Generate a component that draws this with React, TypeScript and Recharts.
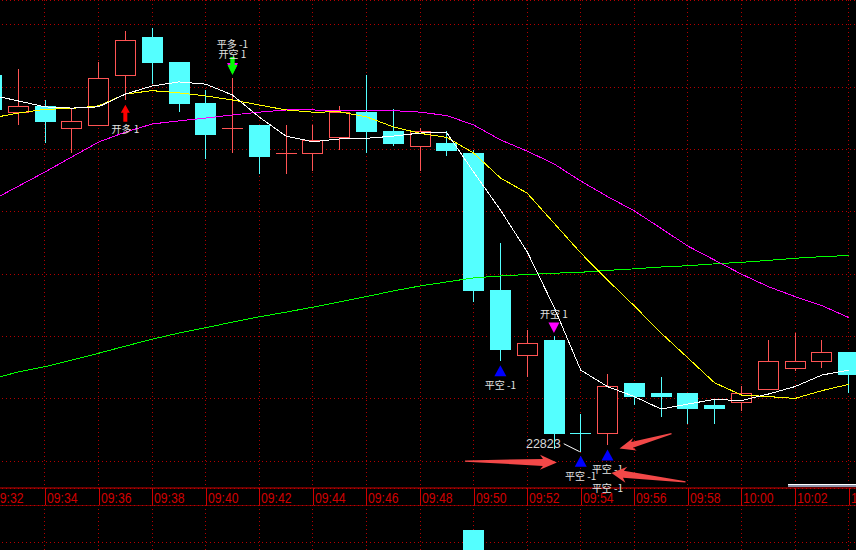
import React from "react";
import {
  ComposedChart,
  Bar,
  Line,
  XAxis,
  YAxis,
  CartesianGrid,
  ReferenceDot,
  ReferenceLine,
} from "recharts";

// one-minute bars, 09:32 - 10:04
const times = [
  "09:32", "09:33", "09:34", "09:35", "09:36", "09:37", "09:38", "09:39", "09:40", "09:41", "09:42",
  "09:43", "09:44", "09:45", "09:46", "09:47", "09:48", "09:49", "09:50", "09:51", "09:52", "09:53",
  "09:54", "09:55", "09:56", "09:57", "09:58", "09:59", "10:00", "10:01", "10:02", "10:03", "10:04",
];
const opens = [
  22944, 22932, 22934, 22927, 22928, 22944, 22956, 22948, 22935, 22927, 22928,
  22919, 22919, 22924, 22932, 22926, 22921, 22922, 22919, 22875, 22854, 22859,
  22829, 22829, 22845, 22842, 22842, 22838, 22839, 22843, 22850, 22852, 22855,
];
const highs = [
  22947, 22946, 22936, 22933, 22948, 22958, 22959, 22948, 22939, 22943, 22928,
  22928, 22928, 22934, 22944, 22933, 22927, 22926, 22920, 22890, 22862, 22860,
  22835, 22848, 22845, 22847, 22842, 22840, 22844, 22859, 22861, 22859, 22855,
];
const lows = [
  22931, 22928, 22922, 22919, 22928, 22936, 22941, 22932, 22917, 22919, 22912,
  22912, 22913, 22920, 22919, 22921, 22913, 22918, 22871, 22852, 22847, 22824,
  22823, 22825, 22838, 22834, 22832, 22832, 22836, 22843, 22849, 22850, 22842,
];
const closes = [
  22933, 22934, 22929, 22929, 22943, 22955, 22948, 22935, 22925, 22927, 22918,
  22919, 22923, 22932, 22926, 22922, 22926, 22920, 22875, 22856, 22858, 22829,
  22829, 22844, 22841, 22841, 22837, 22837, 22842, 22852, 22852, 22855, 22848,
];
// moving averages
const ma5 = [
  22937.5, 22935.6, 22933.7, 22933.3, 22933.7, 22937.8, 22940.4, 22941.7, 22941.0, 22937.5, 22930.4,
  22924.3, 22922.5, 22923.4, 22923.6, 22924.3, 22925.3, 22925.4, 22912.8, 22900.6, 22887.2, 22869.5,
  22849.2, 22843.9, 22840.7, 22836.7, 22838.3, 22839.8, 22839.4, 22841.5, 22843.9, 22847.6, 22849.2,
];
const ma10 = [
  22930.1, 22931.7, 22932.9, 22933.2, 22934.0, 22937.8, 22938.9, 22938.2, 22937.2, 22935.9, 22934.3,
  22932.7, 22932.0, 22932.1, 22930.5, 22927.3, 22925.2, 22923.9, 22918.9, 22910.9, 22906.0, 22896.4,
  22886.8, 22878.1, 22869.8, 22861.1, 22853.1, 22845.1, 22841.2, 22840.7, 22840.1, 22842.6, 22844.6,
];
const ma20 = [
  22903.6, 22908.2, 22912.8, 22917.6, 22922.4, 22925.6, 22928.2, 22929.2, 22930.1, 22931.1, 22932.0,
  22932.7, 22932.7, 22932.5, 22932.4, 22932.5, 22932.0, 22930.9, 22927.9, 22923.1, 22919.5, 22915.4,
  22909.9, 22904.9, 22900.3, 22894.7, 22889.0, 22884.5, 22880.0, 22876.0, 22872.8, 22869.9, 22866.1,
];
const ma60 = [
  22846.3, 22848.6, 22850.3, 22852.4, 22854.6, 22856.9, 22859.1, 22861.1, 22862.8, 22864.6, 22866.3,
  22867.8, 22869.4, 22871.1, 22872.8, 22874.6, 22876.2, 22877.5, 22878.8, 22879.4, 22879.9, 22880.3,
  22880.6, 22881.2, 22881.7, 22882.3, 22882.7, 22883.3, 22883.8, 22884.4, 22885.1, 22885.6, 22886.0,
];
// volume pane: only the 09:50 bar reaches into view
const volumes = [
  1200, 900, 800, 700, 1500, 1400, 1300, 1100, 1000, 1200, 900,
  700, 600, 800, 1100, 600, 700, 600, 3650, 2300, 1200, 2200,
  1500, 1400, 800, 700, 700, 500, 600, 900, 700, 600, 800,
];

const priceTicks = [22820, 22840, 22860, 22880, 22900, 22920, 22940, 22960];
const volumeTicks = [3000];

// trade signals
const signalTimes = ["09:37", "09:41", "09:51", "09:53", "09:54", "09:55"];
const signalKinds = ["openLong", "closeLongOpenShort", "closeShort", "openShort", "closeShort", "closeShort"];
const signalLabels = [["开多 1"], ["平多 -1", "开空 1"], ["平空 -1"], ["开空 1"], ["平空 -1"], ["平空 -1", "平空 -1"]];

const lowestTime = "09:54";
const lowestPrice = 22823;

const UP = "#ff5454";
const DOWN = "#54ffff";
const GRID = "#b40000";
const AXIS = "#d00000";
const TXT = "#e4e4e4";

const table = times.map((t, i) => ({
  time: t,
  open: opens[i],
  high: highs[i],
  low: lows[i],
  close: closes[i],
  prevClose: i > 0 ? closes[i - 1] : opens[i],
  ma5: ma5[i],
  ma10: ma10[i],
  ma20: ma20[i],
  ma60: ma60[i],
  volume: volumes[i],
}));

const isUp = (d: any) => d.close > d.open || (d.close === d.open && d.close > d.prevClose);

function Candle(props: any) {
  const { x, y, width, height, payload } = props;
  const top = Math.min(y, y + height);
  const k = Math.abs(height) / (payload.high - payload.low);
  const py = (v: number) => Math.round(top + (payload.high - v) * k);
  const left = Math.floor(x + width / 2) - 10;
  const wx = left + 10.5;
  const color = isUp(payload) ? UP : DOWN;
  const yo = py(payload.open);
  const yc = py(payload.close);
  const yh = py(payload.high);
  const yl = py(payload.low);
  const bt = Math.min(yo, yc);
  const bb = Math.max(yo, yc);
  if (bt === bb) {
    return (
      <g shapeRendering="crispEdges">
        <line x1={wx} x2={wx} y1={yh} y2={yl} stroke={color} />
        <line x1={left} x2={left + 21} y1={bt + 0.5} y2={bt + 0.5} stroke={color} />
      </g>
    );
  }
  if (isUp(payload)) {
    return (
      <g shapeRendering="crispEdges">
        <line x1={wx} x2={wx} y1={yh} y2={bt} stroke={color} />
        <line x1={wx} x2={wx} y1={bb} y2={yl} stroke={color} />
        <rect x={left + 0.5} y={bt + 0.5} width={20} height={bb - bt} fill="#000" stroke={color} />
      </g>
    );
  }
  return (
    <g shapeRendering="crispEdges">
      <line x1={wx} x2={wx} y1={yh} y2={yl} stroke={color} />
      <rect x={left} y={bt} width={21} height={bb - bt + 1} fill={color} />
    </g>
  );
}

function VolumeBar(props: any) {
  const { x, y, width, height, payload } = props;
  const left = Math.floor(x + width / 2) - 10;
  const top = Math.round(Math.min(y, y + height));
  const h = Math.abs(height) + 2;
  if (isUp(payload)) {
    return <rect x={left + 0.5} y={top + 0.5} width={20} height={h} fill="#000" stroke={UP} shapeRendering="crispEdges" />;
  }
  return <rect x={left} y={top} width={21} height={h} fill={DOWN} shapeRendering="crispEdges" />;
}

function TimeTick(props: any) {
  const { x, y, payload } = props;
  const lx = Math.round(x) + 0.5;
  return (
    <g>
      <line x1={lx} x2={lx} y1={y} y2={y + 17} stroke={AXIS} shapeRendering="crispEdges" />
      <text
        x={lx + 1.5}
        y={y + 14.5}
        fill={AXIS}
        fontSize={14}
        textLength={30.5}
        lengthAdjust="spacingAndGlyphs"
        fontFamily="'Liberation Sans', Arial, sans-serif"
      >
        {payload.value}
      </text>
    </g>
  );
}

function Labels({ cx, y, lines }: any) {
  return (
    <>
      {lines.map((s: string, i: number) => (
        <text
          key={i}
          x={cx}
          y={y + i * 10 + 3.5}
          textAnchor="middle"
          fill={TXT}
          fontSize={10}
          fontFamily="'Noto Sans CJK SC', sans-serif"
        >
          {s}
        </text>
      ))}
    </>
  );
}

function SignalMark({ cx, cy, kind, lines }: any) {
  if (kind === "openLong") {
    return (
      <g>
        <polygon
          points={`${cx},${cy + 5} ${cx + 4.5},${cy + 13} ${cx + 2},${cy + 13} ${cx + 2},${cy + 22} ${cx - 2},${cy + 22} ${cx - 2},${cy + 13} ${cx - 4.5},${cy + 13}`}
          fill="#ff0000"
        />
        <Labels cx={cx} y={cy + 30} lines={lines} />
      </g>
    );
  }
  if (kind === "closeLongOpenShort") {
    return (
      <g>
        <polygon points={`${cx - 5.5},${cy - 15} ${cx + 5.5},${cy - 15} ${cx},${cy - 4}`} fill="#ff00ff" />
        <polygon
          points={`${cx - 2.2},${cy - 21} ${cx + 2.2},${cy - 21} ${cx + 2.2},${cy - 13} ${cx + 5},${cy - 13} ${cx},${cy - 3} ${cx - 5},${cy - 13} ${cx - 2.2},${cy - 13}`}
          fill="#00ff00"
        />
        <Labels cx={cx} y={cy - 33} lines={lines} />
      </g>
    );
  }
  if (kind === "openShort") {
    return (
      <g>
        <polygon points={`${cx - 5.5},${cy - 14} ${cx + 5.5},${cy - 14} ${cx},${cy - 3.5}`} fill="#ff00ff" />
        <Labels cx={cx} y={cy - 22} lines={lines} />
      </g>
    );
  }
  return (
    <g>
      <polygon points={`${cx},${cy + 4} ${cx + 6},${cy + 15} ${cx - 6},${cy + 15}`} fill="#0000ff" />
      <Labels cx={cx} y={cy + 24.5} lines={lines.slice(0, 1)} />
      {lines.length > 1 && <Labels cx={cx} y={cy + 43} lines={lines.slice(1)} />}
    </g>
  );
}

// hand-drawn red arrows, tip anchored on the price scale
const notes = [
  { time: "09:53", price: 22819.5, dx: 3, tail: [-92, -1.5], headLen: 17, headHalf: 7.5, baseHalf: 3.5 },
  { time: "09:55", price: 22824.0, dx: 12, tail: [52, -15], headLen: 16, headHalf: 6.5, baseHalf: 3 },
  { time: "09:55", price: 22816.2, dx: 4, tail: [74, 9], headLen: 15, headHalf: 8, baseHalf: 3.5 },
];

function NoteArrow({ cx, cy, n }: any) {
  const tx = cx + n.dx;
  const ty = cy;
  const px = tx + n.tail[0];
  const py = ty + n.tail[1];
  const len = Math.hypot(tx - px, ty - py);
  const ux = (tx - px) / len;
  const uy = (ty - py) / len;
  const nx = -uy;
  const ny = ux;
  const bx = tx - ux * n.headLen;
  const by = ty - uy * n.headLen;
  const jx = tx - ux * (n.headLen - 3);
  const jy = ty - uy * (n.headLen - 3);
  const pts = [
    [px + nx * 0.6, py + ny * 0.6],
    [jx + nx * n.baseHalf, jy + ny * n.baseHalf],
    [bx + nx * n.headHalf, by + ny * n.headHalf],
    [tx, ty],
    [bx - nx * n.headHalf, by - ny * n.headHalf],
    [jx - nx * n.baseHalf, jy - ny * n.baseHalf],
    [px - nx * 0.6, py - ny * 0.6],
  ];
  return <polygon points={pts.map((p) => p.join(",")).join(" ")} fill="#f24848" />;
}

function LowMark({ cx, cy }: any) {
  return (
    <g>
      <line x1={cx - 1} y1={cy} x2={cx - 17} y2={cy - 8} stroke="#ffffff" strokeWidth={1} />
      <text
        x={cx - 20}
        y={cy - 3.5}
        textAnchor="end"
        fill="#d8d8d8"
        fontSize={12.5}
        fontFamily="'Liberation Sans', Arial, sans-serif"
      >
        {lowestPrice}
      </text>
    </g>
  );
}

export default function App() {
  return (
    <div style={{ position: "fixed", left: 0, top: 0, width: 856, height: 550, overflow: "hidden", background: "#000" }}>
      <div style={{ position: "absolute", left: -22, top: 0 }}>
        <ComposedChart width={884} height={505} data={table} margin={{ top: 0, right: 0, bottom: 0, left: 0 }}>
          <CartesianGrid stroke={GRID} strokeDasharray="1 3" shapeRendering="crispEdges" />
          <XAxis
            dataKey="time"
            interval={1}
            height={17}
            tickLine={false}
            tickSize={0}
            tickMargin={0}
            axisLine={{ stroke: AXIS }}
            tick={<TimeTick />}
          />
          <YAxis hide type="number" domain={[22811.35, 22968]} ticks={priceTicks} interval={0} allowDataOverflow />
          <Bar dataKey={(d: any) => [d.low, d.high]} barSize={21} shape={<Candle />} isAnimationActive={false} />
          <Line dataKey="ma60" stroke="#00ff00" dot={false} strokeWidth={1} shapeRendering="crispEdges" isAnimationActive={false} />
          <Line dataKey="ma20" stroke="#ff00ff" dot={false} strokeWidth={1} shapeRendering="crispEdges" isAnimationActive={false} />
          <Line dataKey="ma10" stroke="#ffff00" dot={false} strokeWidth={1} shapeRendering="crispEdges" isAnimationActive={false} />
          <Line dataKey="ma5" stroke="#ffffff" dot={false} strokeWidth={1} shapeRendering="crispEdges" isAnimationActive={false} />
          {signalTimes.map((t, i) => {
            const d = table[times.indexOf(t)];
            const atHigh = signalKinds[i] === "openShort" || signalKinds[i] === "closeLongOpenShort";
            return (
              <ReferenceDot
                key={"s" + i}
                x={t}
                y={atHigh ? d.high : d.low}
                r={0}
                ifOverflow="visible"
                shape={(p: any) => <SignalMark cx={p.cx} cy={p.cy} kind={signalKinds[i]} lines={signalLabels[i]} />}
              />
            );
          })}
          <ReferenceDot
            x={lowestTime}
            y={lowestPrice}
            r={0}
            ifOverflow="visible"
            shape={(p: any) => <LowMark cx={p.cx} cy={p.cy} />}
          />
          {notes.map((n, i) => (
            <ReferenceDot
              key={"n" + i}
              x={n.time}
              y={n.price}
              r={0}
              ifOverflow="visible"
              shape={(p: any) => <NoteArrow cx={p.cx} cy={p.cy} n={n} />}
            />
          ))}
        </ComposedChart>
      </div>
      <div style={{ position: "absolute", left: -22, top: 505 }}>
        <ComposedChart width={884} height={93} data={table} margin={{ top: 0, right: 0, bottom: 0, left: 0 }}>
          <CartesianGrid stroke={GRID} strokeDasharray="1 3" shapeRendering="crispEdges" />
          <XAxis dataKey="time" hide interval={1} />
          <YAxis hide type="number" domain={[0, 5000]} ticks={volumeTicks} interval={0} allowDataOverflow />
          <ReferenceLine y={5000} stroke={AXIS} strokeWidth={1} />
          <Bar dataKey="volume" barSize={21} shape={<VolumeBar />} isAnimationActive={false} />
        </ComposedChart>
      </div>
      <div
        style={{
          position: "absolute",
          left: 788,
          top: 484,
          width: 68,
          height: 2,
          borderTop: "1px solid #ffffff",
          background: "#8c96aa",
        }}
      />
    </div>
  );
}
